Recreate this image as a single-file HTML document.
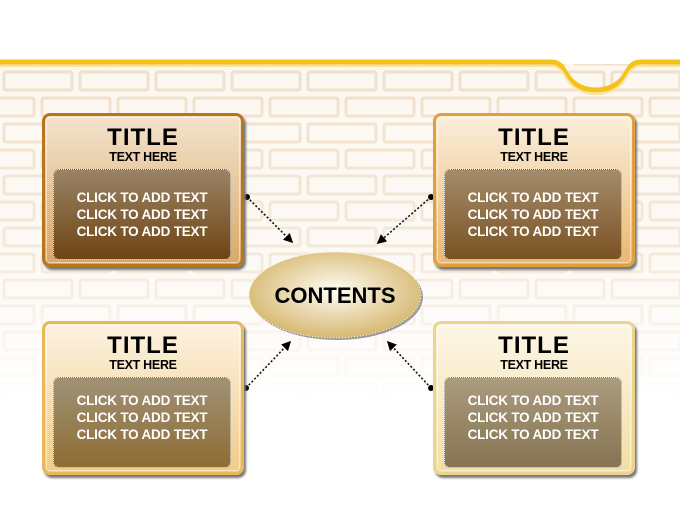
<!DOCTYPE html>
<html><head><style>
body{margin:0;width:680px;height:510px;overflow:hidden;background:#fff;position:relative;font-family:"Liberation Sans",sans-serif}
.box{position:absolute;width:196px;height:148px;border-radius:8px;border:3px solid;box-shadow:2px 3px 2px #777;outline:1px dotted #fff;outline-offset:-5px}
.box .t{position:absolute;left:0;right:0;top:10px;text-align:center;font-weight:bold;font-size:24px;letter-spacing:1px;line-height:24px}
.box .h{position:absolute;left:0;right:0;top:34px;text-align:center;font-weight:bold;font-size:12.5px;letter-spacing:-0.3px}
.in{position:absolute;left:8px;top:53px;width:178px;height:91px;border-radius:6px;border:1px dotted #eee;color:#fff;font-weight:bold;font-size:13.5px;letter-spacing:-0.2px;text-align:center;line-height:17px;padding-top:19px;box-sizing:border-box}
.lo .in{padding-top:14px}
</style></head><body>
<svg width="680" height="510" style="position:absolute;left:0;top:0">
<defs>
<pattern id="b" x="0" y="68" width="152" height="52" patternUnits="userSpaceOnUse">
<g fill="none" stroke="#efdcc4" stroke-width="3">
<rect x="4" y="4" width="68" height="18" rx="2"/><rect x="80" y="4" width="68" height="18" rx="2"/>
<rect x="-34" y="30" width="68" height="18" rx="2"/><rect x="42" y="30" width="68" height="18" rx="2"/><rect x="118" y="30" width="68" height="18" rx="2"/>
</g></pattern>
<linearGradient id="f" x1="0" y1="0" x2="0" y2="1"><stop offset="0" stop-color="#fff" stop-opacity="0.1"/><stop offset="0.6" stop-color="#fff" stop-opacity="0.4"/><stop offset="1" stop-color="#fff" stop-opacity="1"/></linearGradient>
<radialGradient id="e" cx="50%" cy="45%" r="55%"><stop offset="0" stop-color="#fffdf5"/><stop offset="1" stop-color="#d6b870"/></radialGradient>
<marker id="a" markerWidth="6" markerHeight="6" refX="5" refY="3" orient="auto"><path d="M0 0L6 3L0 6z" fill="#000"/></marker></defs>
<rect x="0" y="64" width="680" height="340" fill="#fbf6ef"/>
<rect x="0" y="64" width="680" height="340" fill="url(#b)"/>
<rect x="0" y="64" width="680" height="340" fill="url(#f)"/>
<path d="M0 62 H552 Q560 62 565 72 Q575 90 596 90 Q617 90 627 72 Q632 62 640 62 H680" fill="none" stroke="#f5c21a" stroke-width="5"/>
<path d="M0 66 H552 Q560 66 565 76 Q575 94 596 94 Q617 94 627 76 Q632 66 640 66 H680" fill="none" stroke="#fbe39a" stroke-width="2"/>
<ellipse cx="337" cy="297" rx="86" ry="43" fill="#999"/>
<ellipse cx="335" cy="295" rx="86" ry="43" fill="url(#e)" stroke="#fff" stroke-dasharray="1 2"/>
<text x="335" y="303" text-anchor="middle" font-family="Liberation Sans" font-weight="bold" font-size="22">CONTENTS</text>
<g stroke="#111" stroke-width="1.6" stroke-dasharray="2 2" marker-end="url(#a)">
<line x1="247" y1="197" x2="292" y2="242"/>
<line x1="431" y1="197" x2="378" y2="243"/>
<line x1="246" y1="388" x2="290" y2="342"/>
<line x1="431" y1="388" x2="388" y2="342"/>
</g>
<g fill="#000"><circle cx="247" cy="197" r="3"/><circle cx="431" cy="197" r="3"/><circle cx="246" cy="388" r="3"/><circle cx="431" cy="388" r="3"/></g>
</svg>
<div class="box" style="left:42px;top:113px;border-color:#b87520;background:linear-gradient(#f3e3cc,#d9a868)"><div class="t">TITLE</div><div class="h">TEXT HERE</div><div class="in" style="background:linear-gradient(#9a8466,#6e4412)">CLICK TO ADD TEXT<br>CLICK TO ADD TEXT<br>CLICK TO ADD TEXT</div></div>
<div class="box" style="left:433px;top:113px;border-color:#e0a040;background:linear-gradient(#fbeedc,#eab870)"><div class="t">TITLE</div><div class="h">TEXT HERE</div><div class="in" style="background:linear-gradient(#a48c6c,#7a5222)">CLICK TO ADD TEXT<br>CLICK TO ADD TEXT<br>CLICK TO ADD TEXT</div></div>
<div class="box lo" style="left:42px;top:321px;border-color:#eab858;background:linear-gradient(#fdf2e0,#f0cc88)"><div class="t">TITLE</div><div class="h">TEXT HERE</div><div class="in" style="background:linear-gradient(#a09276,#8e6c34)">CLICK TO ADD TEXT<br>CLICK TO ADD TEXT<br>CLICK TO ADD TEXT</div></div>
<div class="box lo" style="left:433px;top:321px;border-color:#ecd48c;background:linear-gradient(#fdf6e6,#f2dea6)"><div class="t">TITLE</div><div class="h">TEXT HERE</div><div class="in" style="background:linear-gradient(#ac9c7e,#847452)">CLICK TO ADD TEXT<br>CLICK TO ADD TEXT<br>CLICK TO ADD TEXT</div></div>
</body></html>
